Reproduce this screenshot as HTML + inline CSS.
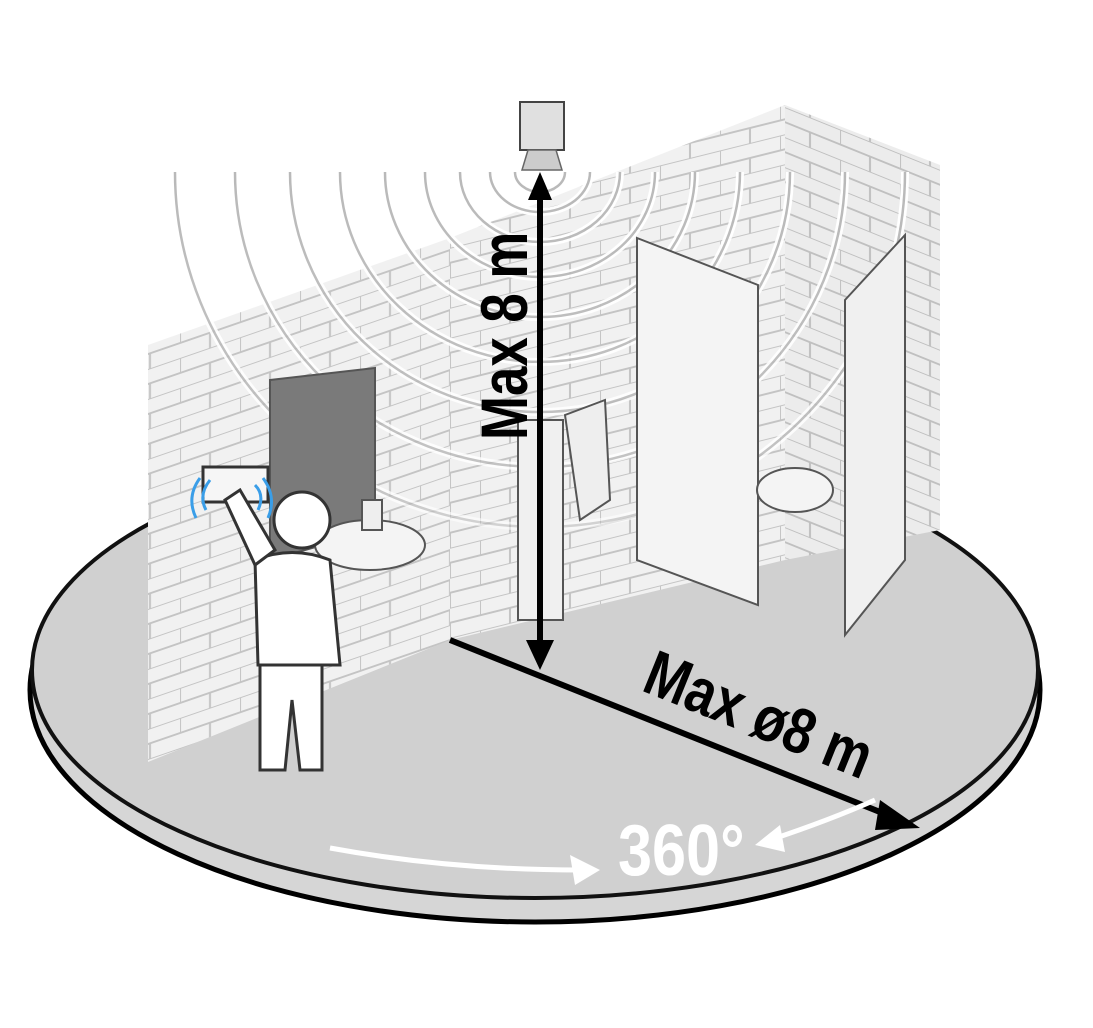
<!DOCTYPE html>
<html><head><meta charset="utf-8"><style>
html,body{margin:0;padding:0;background:#fff;}
svg{display:block;}
text{font-family:"Liberation Sans",sans-serif;font-weight:bold;}
</style></head><body>
<svg width="1093" height="1028" viewBox="0 0 1093 1028" xmlns="http://www.w3.org/2000/svg">
<defs>
<pattern id="brL" width="60" height="30" patternUnits="userSpaceOnUse" patternTransform="skewY(-19)">
<rect width="60" height="30" fill="#f1f1f1"/>
<path d="M0 0H60M0 15H60M0 0V15M30 15V30" stroke="#c4c4c4" stroke-width="2" fill="none"/>
</pattern>
<pattern id="brB" width="60" height="30" patternUnits="userSpaceOnUse" patternTransform="skewY(-14)">
<rect width="60" height="30" fill="#f1f1f1"/>
<path d="M0 0H60M0 15H60M0 0V15M30 15V30" stroke="#c4c4c4" stroke-width="2" fill="none"/>
</pattern>
<pattern id="brR" width="60" height="30" patternUnits="userSpaceOnUse" patternTransform="skewY(22)">
<rect width="60" height="30" fill="#ececec"/>
<path d="M0 0H60M0 15H60M0 0V15M30 15V30" stroke="#c0c0c0" stroke-width="2" fill="none"/>
</pattern>
<linearGradient id="fg" gradientUnits="userSpaceOnUse" x1="0" y1="150" x2="0" y2="600">
<stop offset="0" stop-color="#fff" stop-opacity="1"/>
<stop offset="0.75" stop-color="#fff" stop-opacity="0.8"/>
<stop offset="1" stop-color="#fff" stop-opacity="0"/>
</linearGradient>
<mask id="m"><rect width="1093" height="1028" fill="url(#fg)"/></mask>
</defs>
<ellipse cx="535" cy="690" rx="505" ry="232" fill="#d6d6d6" stroke="#000" stroke-width="5"/>
<path d="M35 660 A503 228 0 0 0 1035 660" fill="none" stroke="#fff" stroke-width="5"/>
<ellipse cx="535" cy="670" rx="503" ry="228" fill="#d0d0d0" stroke="#111" stroke-width="4"/>
<polygon points="148,345 450,238 450,640 148,762" fill="url(#brL)"/>
<polygon points="450,238 785,105 785,560 450,640" fill="url(#brB)"/>
<polygon points="785,105 940,165 940,530 785,560" fill="url(#brR)"/>
<g mask="url(#m)">
<g fill="none" stroke="#fff" stroke-width="8">
<path d="M515 172 A25 20 0 0 0 565 172"/><path d="M490 172 A50 40 0 0 0 590 172"/>
<path d="M460 172 A80 70 0 0 0 620 172"/><path d="M425 172 A115 105 0 0 0 655 172"/>
<path d="M385 172 A155 145 0 0 0 695 172"/><path d="M340 172 A200 190 0 0 0 740 172"/>
<path d="M290 172 A250 240 0 0 0 790 172"/><path d="M235 172 A305 295 0 0 0 845 172"/>
<path d="M175 172 A365 355 0 0 0 905 172"/>
</g>
<g fill="none" stroke="#b8b8b8" stroke-width="2.5">
<path d="M515 172 A25 20 0 0 0 565 172"/><path d="M490 172 A50 40 0 0 0 590 172"/>
<path d="M460 172 A80 70 0 0 0 620 172"/><path d="M425 172 A115 105 0 0 0 655 172"/>
<path d="M385 172 A155 145 0 0 0 695 172"/><path d="M340 172 A200 190 0 0 0 740 172"/>
<path d="M290 172 A250 240 0 0 0 790 172"/><path d="M235 172 A305 295 0 0 0 845 172"/>
<path d="M175 172 A365 355 0 0 0 905 172"/>
</g>
</g>
<rect x="520" y="102" width="44" height="48" fill="#e0e0e0" stroke="#444" stroke-width="2"/>
<polygon points="528,150 556,150 562,170 522,170" fill="#ccc" stroke="#666" stroke-width="1.5"/>
<polygon points="270,380 375,368 375,530 270,560" fill="#7a7a7a" stroke="#555" stroke-width="2"/>
<ellipse cx="370" cy="545" rx="55" ry="25" fill="#f4f4f4" stroke="#555" stroke-width="2"/>
<rect x="362" y="500" width="20" height="30" fill="#eee" stroke="#555" stroke-width="2"/>
<rect x="518" y="420" width="45" height="200" fill="#f0f0f0" stroke="#555" stroke-width="2"/>
<polygon points="565,415 605,400 610,500 580,520" fill="#eee" stroke="#555" stroke-width="2"/>
<polygon points="637,238 758,285 758,605 637,560" fill="#f4f4f4" stroke="#555" stroke-width="2"/>
<ellipse cx="795" cy="490" rx="38" ry="22" fill="#f4f4f4" stroke="#555" stroke-width="2"/>
<polygon points="845,300 905,235 905,560 845,635" fill="#f0f0f0" stroke="#555" stroke-width="2"/>
<g fill="#fff" stroke="#333" stroke-width="3">
<rect x="203" y="467" width="65" height="35" fill="#f6f6f6"/>
<path d="M260 665 V770 H285 L292 700 L300 770 H322 V665 Z"/>
<path d="M255 560 Q292 545 330 560 L340 665 H258 Z"/>
<path d="M255 565 L225 500 L240 490 L275 550 Z"/>
<circle cx="302" cy="520" r="28"/>
</g>
<g fill="none" stroke="#3a9ee8" stroke-width="3">
<path d="M210 480 Q198 495 206 510"/><path d="M200 478 Q186 497 196 518"/>
<path d="M255 485 Q265 495 258 510"/><path d="M263 478 Q277 497 268 518"/>
</g>
<line x1="540" y1="195" x2="540" y2="645" stroke="#000" stroke-width="6"/>
<polygon points="540,172 528,200 552,200" fill="#000"/>
<polygon points="540,670 526,640 554,640" fill="#000"/>
<text transform="translate(527,440) rotate(-90) scale(0.8,1)" font-size="66" fill="#000">Max 8 m</text>
<line x1="450" y1="640" x2="895" y2="818" stroke="#000" stroke-width="6"/>
<polygon points="920,828 880,800 875,830" fill="#000"/>
<text transform="translate(640,690) rotate(22) scale(0.82,1)" font-size="64" fill="#000">Max ø8 m</text>
<text transform="translate(618,875) scale(0.85,1)" font-size="72" fill="#fff">360°</text>
<path d="M330 848 Q450 870 580 870" fill="none" stroke="#fff" stroke-width="5"/>
<polygon points="600,870 570,855 575,885" fill="#fff"/>
<path d="M770 840 Q830 820 875 800" fill="none" stroke="#fff" stroke-width="5"/>
<polygon points="755,845 780,825 785,852" fill="#fff"/>
</svg>
</body></html>
